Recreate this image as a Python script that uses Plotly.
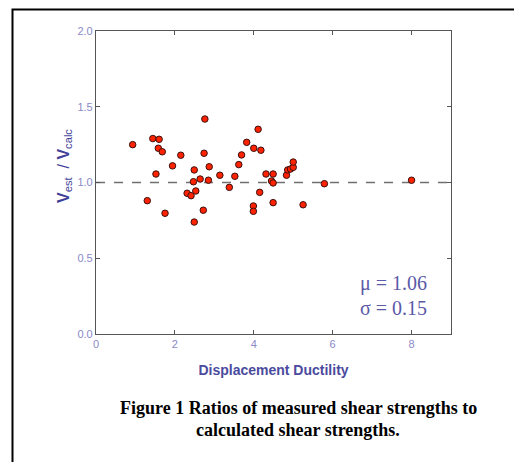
import plotly.graph_objects as go

# Displacement ductility (x) and ratio V_test / V_calc (y)
ductility = [0.93, 1.44, 1.60, 1.58, 1.68, 2.76, 2.15, 1.94, 1.52, 1.30,
             1.75, 2.49, 2.74, 2.87, 2.64, 2.47, 2.85, 3.14, 2.31, 2.41,
             2.53, 2.72, 2.49, 3.38, 3.52, 3.62, 3.69, 3.82, 4.11, 4.00,
             4.18, 4.31, 4.15, 3.99, 3.99, 4.49, 4.45, 4.49, 4.49, 5.25,
             4.83, 4.86, 4.93, 5.00, 5.00, 5.79, 8.00]
ratio = [1.25, 1.29, 1.285, 1.226, 1.203, 1.419, 1.18, 1.11, 1.056, 0.88,
         0.797, 1.083, 1.193, 1.104, 1.023, 1.005, 1.015, 1.048, 0.929, 0.913,
         0.944, 0.817, 0.739, 0.968, 1.041, 1.118, 1.182, 1.265, 1.351, 1.226,
         1.213, 1.056, 0.935, 0.845, 0.81, 1.056, 1.01, 0.997, 0.867, 0.853,
         1.048, 1.083, 1.089, 1.10, 1.135, 0.992, 1.015]
ref_ratio = 1.0
x_ticks = [0, 2, 4, 6, 8]
y_ticks = [0.0, 0.5, 1.0, 1.5, 2.0]
mean_text = "μ = 1.06"
std_text = "σ = 0.15"
caption = ["Figure 1 Ratios of measured shear strengths to",
           "calculated shear strengths."]

W, H = 522, 462
OFF = 8  # page body margin offset
L, R, T, B = 96 - OFF, 451 - OFF, 31 - OFF, 334 - OFF  # plot area pixel edges
pw, ph = R - L, B - T

def px(xp):
    return (xp - OFF - L) / pw

def py(yp):
    return (B - (yp - OFF)) / ph

fig = go.Figure()
fig.add_trace(go.Scatter(
    x=[0, 9], y=[ref_ratio, ref_ratio], mode="lines",
    line=dict(color="#707070", width=1.5, dash="dash"),
    showlegend=False, hoverinfo="skip"))
fig.add_trace(go.Scatter(
    x=ductility, y=ratio, mode="markers",
    marker=dict(size=6.5, color="#ff2200", line=dict(color="#3a1010", width=1)),
    showlegend=False, hoverinfo="skip"))

tick_font = dict(family="Arial, Liberation Sans, sans-serif", size=11, color="#8a8ac8")
axis_common = dict(showgrid=False, zeroline=False, showline=True, linecolor="#555555",
                   linewidth=1.2, mirror="ticks", ticks="inside", ticklen=4,
                   tickcolor="#555555", tickwidth=1.2, tickfont=tick_font)

fig.update_xaxes(range=[0, 9], tickvals=x_ticks, ticktext=[str(v) for v in x_ticks],
                 title=dict(text="<b>Displacement Ductility</b>",
                            font=dict(family="Arial, Liberation Sans, sans-serif",
                                      size=14, color="#4b4b9e"), standoff=15),
                 **axis_common)
fig.update_yaxes(range=[0, 2], tickvals=y_ticks, ticktext=[f"{v:.1f}" for v in y_ticks],
                 **axis_common)

annotations = [
    dict(text="<b>V</b><sub>est</sub>  / <b>V</b><sub>calc</sub>", textangle=-90,
         xref="paper", yref="paper", x=px(65), y=py(166), showarrow=False,
         xanchor="center", yanchor="middle",
         font=dict(family="Arial, Liberation Sans, sans-serif", size=16, color="#3f3f9a")),
    dict(text=mean_text, xref="paper", yref="paper", x=px(358), y=py(283),
         showarrow=False, xanchor="left", yanchor="middle",
         font=dict(family="Liberation Serif, Times New Roman, serif", size=20, color="#5a5aa8")),
    dict(text=std_text, xref="paper", yref="paper", x=px(358), y=py(308),
         showarrow=False, xanchor="left", yanchor="middle",
         font=dict(family="Liberation Serif, Times New Roman, serif", size=20, color="#5a5aa8")),
    dict(text="<b>" + caption[0] + "</b>", xref="paper", yref="paper", x=px(298), y=py(408),
         showarrow=False, xanchor="center", yanchor="middle",
         font=dict(family="Liberation Serif, Times New Roman, serif", size=18, color="#000000")),
    dict(text="<b>" + caption[1] + "</b>", xref="paper", yref="paper", x=px(298), y=py(430),
         showarrow=False, xanchor="center", yanchor="middle",
         font=dict(family="Liberation Serif, Times New Roman, serif", size=18, color="#000000")),
]

shapes = [dict(type="rect", xref="paper", yref="paper",
               x0=px(12.5), x1=px(545), y0=py(490), y1=py(9.5),
               line=dict(color="#000000", width=2), fillcolor="rgba(0,0,0,0)", layer="below")]

fig.update_layout(width=W, height=H, margin=dict(l=L, r=W - R, t=T, b=H - B),
                  plot_bgcolor="white", paper_bgcolor="white",
                  annotations=annotations, shapes=shapes)

fig.write_html("out.html")
